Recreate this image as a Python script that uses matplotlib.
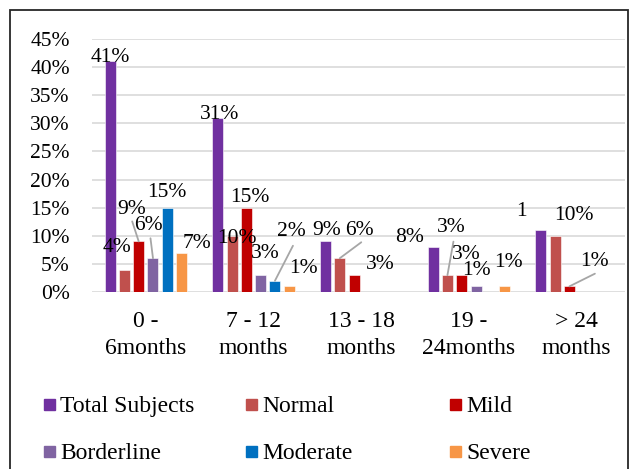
import matplotlib.pyplot as plt
from matplotlib.patches import Rectangle
import numpy as np

plt.rcParams['font.family'] = ['Liberation Serif', 'DejaVu Serif']

categories = ['0 -\n6months', '7 - 12\nmonths', '13 - 18\nmonths', '19 -\n24months', '> 24\nmonths']
total_subjects = [41, 31, 9, 8, 11]
normal = [4, 10, 6, 3, 10]
mild = [9, 15, 3, 3, 1]
borderline = [6, 3, 0, 1, 0]
moderate = [15, 2, 0, 0, 0]
severe = [7, 1, 0, 1, 0]

series = [total_subjects, normal, mild, borderline, moderate, severe]
series_names = ['Total Subjects', 'Normal', 'Mild', 'Borderline', 'Moderate', 'Severe']
colors = ['#7030A0', '#C0504D', '#C00000', '#8064A2', '#0070C0', '#F79646']

# label offsets from the top-centre of each bar, in pixels (x right, y up)
label_offsets = {
    (0, 0): (0, 6), (1, 0): (-7, 24.5), (2, 0): (-7.5, 34), (3, 0): (-4.5, 35),
    (4, 0): (0, 17.5), (5, 0): (15.5, 12),
    (0, 1): (1.5, 6), (1, 1): (5, 0), (2, 1): (3.5, 13), (3, 1): (5, 24),
    (4, 1): (16, 52), (5, 1): (14.5, 20),
    (0, 2): (1.5, 13.5), (1, 2): (19.5, 30), (2, 2): (26, 13),
    (0, 3): (-24, 12), (1, 3): (4, 50), (2, 3): (4.5, 23.5), (3, 3): (0, 18.5),
    (5, 3): (4, 26.5),
    (0, 4): (-19, 21), (1, 4): (18.5, 22.5), (2, 4): (25.5, 27),
}
# leader line start points, same convention
leader_starts = {
    (2, 0): (-6.5, 20), (3, 0): (-2.5, 20), (4, 1): (18, 35),
    (1, 2): (21.5, 16), (1, 3): (6, 33.5), (2, 4): (25.5, 12.7),
}
# the last purple label is partly hidden, only its first digit shows
label_text = {(0, 4): '1'}

W, H = 632, 469
fig = plt.figure(figsize=(W / 100, H / 100), dpi=100)
ax = fig.add_axes([92 / W, (H - 292) / H, (625 - 92) / W, (292 - 39) / H])

px = 0.72  # pixels -> points at 100 dpi
x = np.arange(len(categories))
step = 0.1327
width = 0.102

for i, (vals, name, col) in enumerate(zip(series, series_names, colors)):
    xs = x + (i - 2.5) * step
    ax.bar(xs, vals, width, color=col, edgecolor='white', linewidth=0.4,
           label=name, zorder=3)
    for g, v in enumerate(vals):
        if v == 0:
            continue
        dx, dy = label_offsets[(i, g)]
        ax.annotate(label_text.get((i, g), f'{v}%'), (xs[g], v),
                    xytext=(dx * px, dy * px), textcoords='offset points',
                    ha='center', va='center_baseline', fontsize=15.5, zorder=5)
        if (i, g) in leader_starts:
            sx, sy = leader_starts[(i, g)]
            ax.annotate('', (xs[g], v), xytext=(sx * px, sy * px),
                        textcoords='offset points',
                        arrowprops=dict(arrowstyle='-', color='#A6A6A6', lw=1.3,
                                        shrinkA=0, shrinkB=0), zorder=4)

ax.set_xlim(-0.5, 4.45)
ax.set_ylim(0, 45)
ax.set_yticks(range(0, 46, 5))
ax.set_yticklabels([f'{t}%' for t in range(0, 46, 5)], fontsize=15.5)
ax.set_xticks(x)
ax.set_xticklabels(categories, fontsize=17, linespacing=1.35)
ax.tick_params(axis='y', length=0, pad=16)
ax.tick_params(axis='x', length=0, pad=14)
ax.grid(axis='y', color='#D9D9D9', linewidth=1.2, zorder=0)
ax.set_axisbelow(True)
for s in ax.spines.values():
    s.set_visible(False)

# legend laid out in two rows of three
col_x = [44, 246, 450]
row_y = [404, 451]
for k, (name, col) in enumerate(zip(series_names, colors)):
    cx = col_x[k % 3]
    cy = row_y[k // 3]
    fig.add_artist(Rectangle((cx / W, (H - cy - 5.5) / H), 11 / W, 11 / H,
                             transform=fig.transFigure, color=col))
    fig.text((cx + 16) / W, (H - cy) / H, name, fontsize=17,
             ha='left', va='center_baseline')

# outer frame
fig.add_artist(Rectangle((10 / W, -0.05), 618 / W, (H - 10) / H + 0.05,
                         transform=fig.transFigure, fill=False,
                         edgecolor='#262626', linewidth=1.3))

fig.savefig('out.png', dpi=100)
